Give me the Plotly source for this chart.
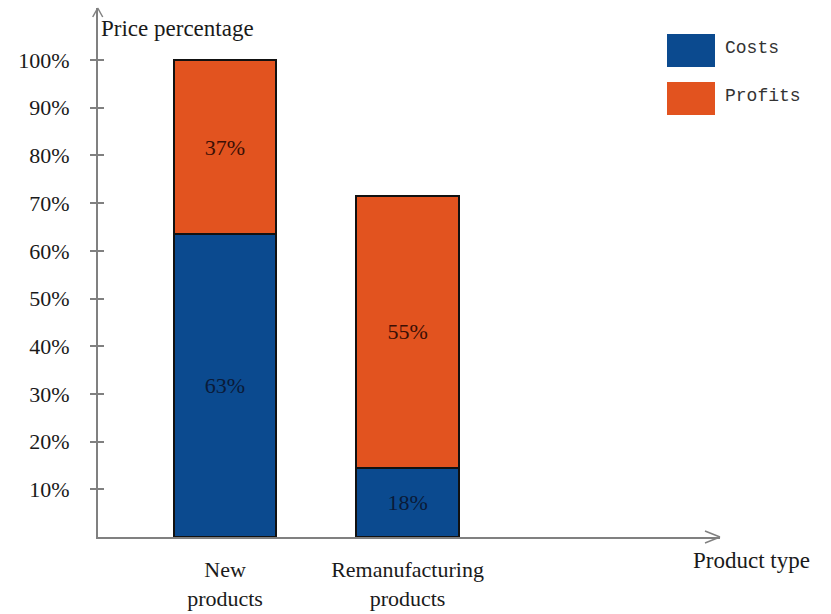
import plotly.graph_objects as go

categories = ["New<br>products", "Remanufacturing<br>products"]
costs = [63.5, 14.5]
profits = [36.5, 57.0]
cost_labels = ["63%", "18%"]
profit_labels = ["37%", "55%"]
y_ticks = [10, 20, 30, 40, 50, 60, 70, 80, 90, 100]
y_ticktext = [f"{v}%" for v in y_ticks]

BLUE = "#0B4A8F"
ORANGE = "#E2531F"
SERIF = "Liberation Serif"

W, H = 831, 614
L, R, T, B = 98, 111, 8, 77
pw, ph = W - L - R, H - T - B

def px(x):
    return (x - L) / pw

def py(y):
    return (H - B - y) / ph

fig = go.Figure()
fig.add_trace(go.Bar(
    x=categories, y=costs, name="Costs", text=cost_labels,
    marker=dict(color=BLUE, line=dict(color="#111", width=2)),
    width=0.56, textposition="inside", insidetextanchor="middle",
    textfont=dict(family=SERIF, size=22, color="#0a1a38"), textangle=0,
))
fig.add_trace(go.Bar(
    x=categories, y=profits, name="Profits", text=profit_labels,
    marker=dict(color=ORANGE, line=dict(color="#111", width=2)),
    width=0.56, textposition="inside", insidetextanchor="middle",
    textfont=dict(family=SERIF, size=22, color="#3b0f05"), textangle=0,
))

axis_color = "#808080"
fig.update_layout(
    width=W, height=H, barmode="stack", showlegend=False,
    plot_bgcolor="white", paper_bgcolor="white",
    margin=dict(l=L, r=R, t=T, b=B, autoexpand=False),
    font=dict(family=SERIF, size=22, color="#1a1a1a"),
    xaxis=dict(range=[-0.696, 2.712], showline=True, linecolor=axis_color, linewidth=2,
               ticks="", showgrid=False, zeroline=False, automargin=False,
               tickfont=dict(family=SERIF, size=22, color="#1a1a1a"),
               ticklabelstandoff=12),
    yaxis=dict(range=[0, 110.9], showline=True, linecolor=axis_color, linewidth=2,
               tickvals=y_ticks, ticktext=y_ticktext, ticks="outside", ticklen=6,
               tickcolor=axis_color, tickwidth=1.5, showgrid=False, zeroline=False,
               automargin=False,
               tickfont=dict(family=SERIF, size=22, color="#1a1a1a"),
               ticklabelstandoff=16),
    yaxis2=dict(matches="y", overlaying="y", side="left", tickvals=y_ticks,
                ticks="inside", ticklen=6, tickcolor=axis_color, tickwidth=1.5,
                showticklabels=False, showgrid=False, zeroline=False, showline=False,
                automargin=False),
)
# dummy trace to activate yaxis2
fig.add_trace(go.Scatter(x=[categories[0]], y=[0], yaxis="y2", mode="markers",
                         marker=dict(opacity=0), hoverinfo="skip", showlegend=False))

shapes = []
# y-axis arrowhead
tip = (97.7, 8)
for dx in (-5, 5):
    shapes.append(dict(type="line", xref="paper", yref="paper",
                       x0=px(tip[0]), y0=py(tip[1]), x1=px(tip[0] + dx), y1=py(tip[1] + 9),
                       line=dict(color=axis_color, width=1.5)))
# x-axis arrowhead
tip = (720, 537)
for dy in (-6, 6):
    shapes.append(dict(type="line", xref="paper", yref="paper",
                       x0=px(tip[0]), y0=py(tip[1]), x1=px(tip[0] - 15), y1=py(tip[1] + dy),
                       line=dict(color=axis_color, width=1.5)))
# legend swatches
legend_items = [("Costs", BLUE, 34), ("Profits", ORANGE, 82)]
annotations = []
for name, col, top in legend_items:
    shapes.append(dict(type="rect", xref="paper", yref="paper",
                       x0=px(667), x1=px(715), y0=py(top), y1=py(top + 33),
                       fillcolor=col, line=dict(width=0)))
    annotations.append(dict(xref="paper", yref="paper", x=px(723), y=py(top + 14),
                            text=name, showarrow=False, xanchor="left", yanchor="middle",
                            font=dict(family="Liberation Mono", size=18, color="#333")))

annotations.append(dict(xref="paper", yref="paper", x=px(99), y=py(28),
                        text="Price percentage", showarrow=False, xanchor="left",
                        yanchor="middle", font=dict(family=SERIF, size=23, color="#1a1a1a")))
annotations.append(dict(xref="paper", yref="paper", x=px(691), y=py(560),
                        text="Product type", showarrow=False, xanchor="left",
                        yanchor="middle", font=dict(family=SERIF, size=23, color="#1a1a1a")))

fig.update_layout(shapes=shapes, annotations=annotations)
fig.write_html("out.html")
